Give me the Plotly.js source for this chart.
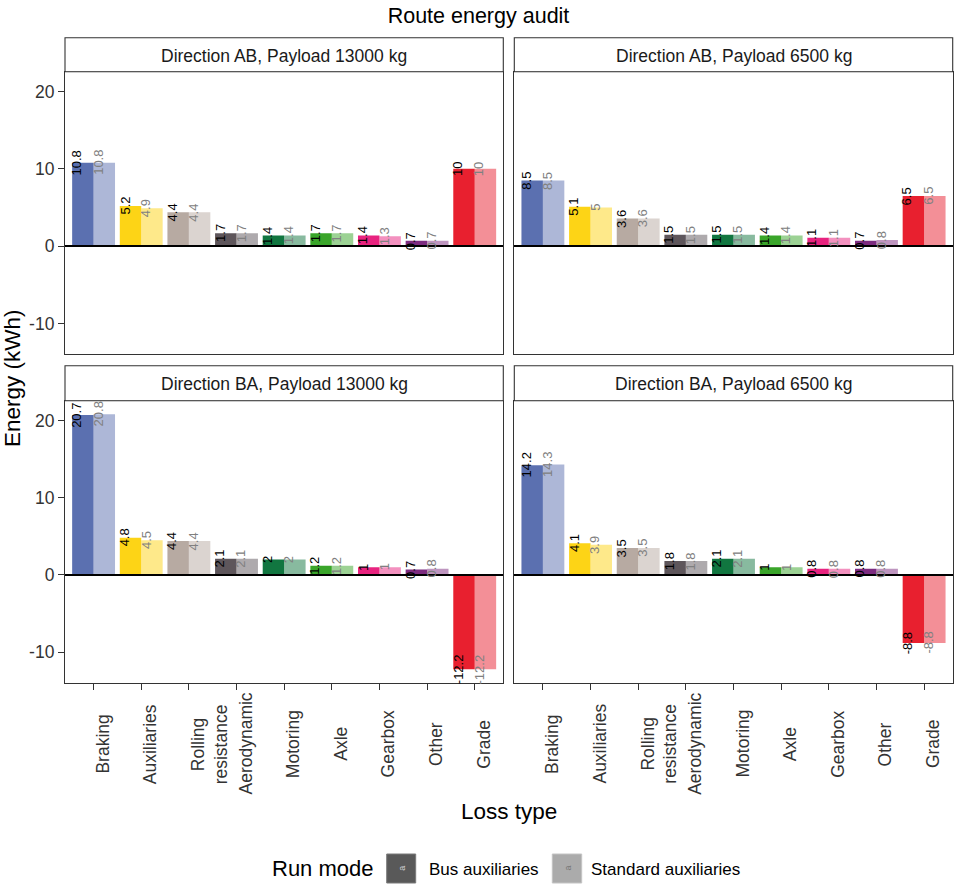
<!DOCTYPE html>
<html>
<head>
<meta charset="utf-8">
<script src="https://cdn.plot.ly/plotly-3.0.1.min.js"></script>
<style>html,body{margin:0;padding:0;background:#fff}#chart{width:957px;height:885px}</style>
</head>
<body>
<div id="chart"></div>
<script>
// ---------- data ----------
const categories = ['Braking','Auxiliaries','Rolling resistance','Aerodynamic','Motoring','Axle','Gearbox','Other','Grade'];
const tickLabels = ['Braking','Auxiliaries','Rolling<br>resistance','Aerodynamic','Motoring','Axle','Gearbox','Other','Grade'];
const modes = ['Bus auxiliaries','Standard auxiliaries'];
const panelTitles = ['Direction AB, Payload 13000 kg','Direction AB, Payload 6500 kg','Direction BA, Payload 13000 kg','Direction BA, Payload 6500 kg'];
const categoryColors = ['#5B70B0','#FDD416','#B7AAA2','#5E565B','#117640','#3AA52A','#E8237F','#7D2C80','#E8202F'];

const busAB13000 = [10.8, 5.2, 4.4, 1.7, 1.4, 1.7, 1.4, 0.7, 10];
const stdAB13000 = [10.8, 4.9, 4.4, 1.7, 1.4, 1.7, 1.3, 0.7, 10];
const busAB6500  = [8.5, 5.1, 3.6, 1.5, 1.5, 1.4, 1.1, 0.7, 6.5];
const stdAB6500  = [8.5, 5, 3.6, 1.5, 1.5, 1.4, 1.1, 0.8, 6.5];
const busBA13000 = [20.7, 4.8, 4.4, 2.1, 2, 1.2, 1, 0.7, -12.2];
const stdBA13000 = [20.8, 4.5, 4.4, 2.1, 2, 1.2, 1, 0.8, -12.2];
const busBA6500  = [14.2, 4.1, 3.5, 1.8, 2.1, 1, 0.8, 0.8, -8.8];
const stdBA6500  = [14.3, 3.9, 3.5, 1.8, 2.1, 1, 0.8, 0.8, -8.8];
const yTicks = [-10, 0, 10, 20];

const panelBus = [busAB13000, busAB6500, busBA13000, busBA6500];
const panelStd = [stdAB13000, stdAB6500, stdBA13000, stdBA6500];

// ---------- layout geometry (pixels) ----------
const W = 957, H = 885;
const FONT = 'Liberation Sans, Arial, Helvetica, sans-serif';
const colPx = [[65, 503.3], [514.3, 952.7]];
const rowPx = [[71.7, 354.3], [400.7, 682.7]];     // plot area rows
const stripPx = [[37.7, 71.7], [365.7, 400.7]];
const px2x = v => v / W;
const px2y = v => 1 - v / H;

const traces = [];
const annotations = [];
const shapes = [];
const layout = {
  width: W, height: H,
  margin: {l: 0, r: 0, t: 0, b: 0},
  paper_bgcolor: '#fff', plot_bgcolor: '#fff',
  barmode: 'group', bargap: 0.1, bargroupgap: 0,
  showlegend: false,
  font: {family: FONT, color: '#000'},
  title: {text: 'Route energy audit', x: 0.5, xanchor: 'center', y: px2y(15), yanchor: 'middle',
          font: {family: FONT, size: 21.5, color: '#000'}}
};

for (let p = 0; p < 4; p++) {
  const r = Math.floor(p / 2), c = p % 2;
  const sfx = p === 0 ? '' : String(p + 1);
  const xa = 'x' + sfx, ya = 'y' + sfx;
  const xName = 'xaxis' + sfx, yName = 'yaxis' + sfx;
  const bottom = r === 1, left = c === 0;

  layout[xName] = {
    domain: [px2x(colPx[c][0]), px2x(colPx[c][1])], anchor: ya,
    type: 'category', categoryorder: 'array', categoryarray: categories,
    range: [-0.6, 8.6], showticklabels: false,
    ticks: bottom ? 'outside' : '', ticklen: 6, tickwidth: 1.1, tickcolor: '#333',
    showline: true, mirror: true, linecolor: '#333', linewidth: 1.1,
    showgrid: false, zeroline: false, fixedrange: true
  };
  layout[yName] = {
    domain: [px2y(rowPx[r][1]), px2y(rowPx[r][0])], anchor: xa,
    range: [-13.95, 22.55], tickvals: yTicks, ticktext: yTicks.map(String),
    showticklabels: left, ticks: left ? 'outside' : '', ticklen: 6, tickwidth: 1.1, tickcolor: '#333',
    tickfont: {family: FONT, size: 17.5, color: '#333'},
    showline: true, mirror: true, linecolor: '#333', linewidth: 1.1,
    showgrid: false, zeroline: true, zerolinecolor: '#000', zerolinewidth: 1.6,
    zerolinelayer: 'above traces', fixedrange: true
  };

  // bars
  traces.push({
    type: 'bar', name: modes[0], x: categories, y: panelBus[p], xaxis: xa, yaxis: ya,
    marker: {color: categoryColors, line: {width: 0}}, hoverinfo: 'x+y+name'
  });
  traces.push({
    type: 'bar', name: modes[1], x: categories, y: panelStd[p], xaxis: xa, yaxis: ya,
    marker: {color: categoryColors, opacity: 0.5, line: {width: 0}}, hoverinfo: 'x+y+name'
  });

  // value labels
  categories.forEach((cat, j) => {
    annotations.push({
      xref: xa, yref: ya, x: cat, y: panelBus[p][j], text: String(panelBus[p][j]),
      textangle: -90, xanchor: 'center', yanchor: 'middle', xshift: -16.7, showarrow: false,
      font: {family: FONT, size: 13, color: '#000'}
    });
    annotations.push({
      xref: xa, yref: ya, x: cat, y: panelStd[p][j], text: String(panelStd[p][j]),
      textangle: -90, xanchor: 'center', yanchor: 'middle', xshift: 4.6, showarrow: false,
      font: {family: FONT, size: 13, color: '#808080'}
    });
  });

  // x tick labels (centered vertically, as in the reference)
  if (bottom) {
    categories.forEach((cat, j) => {
      annotations.push({
        xref: xa, yref: 'paper', x: cat, y: px2y(744), text: tickLabels[j],
        textangle: -90, xanchor: 'left', yanchor: 'middle', xshift: -3, showarrow: false,
        font: {family: FONT, size: 17.5, color: '#333'}
      });
    });
  }

  // facet strip
  shapes.push({
    type: 'rect', xref: 'paper', yref: 'paper',
    x0: px2x(colPx[c][0]), x1: px2x(colPx[c][1]),
    y0: px2y(stripPx[r][1]), y1: px2y(stripPx[r][0]),
    fillcolor: '#fff', line: {color: '#333', width: 1.1}, layer: 'above'
  });
  annotations.push({
    xref: 'paper', yref: 'paper', x: px2x((colPx[c][0] + colPx[c][1]) / 2),
    y: px2y((stripPx[r][0] + stripPx[r][1]) / 2 + 1), text: panelTitles[p],
    xanchor: 'center', yanchor: 'middle', showarrow: false,
    font: {family: FONT, size: 17.5, color: '#1a1a1a'}
  });
}

// axis titles
annotations.push({
  xref: 'paper', yref: 'paper', x: px2x(508.8), y: px2y(811), text: 'Loss type',
  xanchor: 'center', yanchor: 'middle', showarrow: false,
  font: {family: FONT, size: 22.5, color: '#000'}
});
annotations.push({
  xref: 'paper', yref: 'paper', x: px2x(13), y: px2y(378), text: 'Energy (kWh)',
  textangle: -90, xanchor: 'center', yanchor: 'middle', showarrow: false,
  font: {family: FONT, size: 22.5, color: '#000'}
});

// legend (drawn manually to match key size)
annotations.push({
  xref: 'paper', yref: 'paper', x: px2x(322.5), y: px2y(868.5), text: 'Run mode',
  xanchor: 'center', yanchor: 'middle', showarrow: false,
  font: {family: FONT, size: 22, color: '#000'}
});
const keyPx = [[386.7, 415.7], [552.3, 581.7]];
const keyFill = ['#595959', '#ababab'];
const keyLine = ['#7a7a7a', '#c4c4c4'];
const keyText = ['#d0d0d0', '#777'];
const labelCenters = [484.2, 665.9];
modes.forEach((m, i) => {
  shapes.push({
    type: 'rect', xref: 'paper', yref: 'paper',
    x0: px2x(keyPx[i][0]), x1: px2x(keyPx[i][1]), y0: px2y(883), y1: px2y(854),
    fillcolor: keyFill[i], line: {color: keyLine[i], width: 1}
  });
  annotations.push({
    xref: 'paper', yref: 'paper', x: px2x((keyPx[i][0] + keyPx[i][1]) / 2), y: px2y(868.5),
    text: 'a', textangle: -90, xanchor: 'center', yanchor: 'middle', showarrow: false,
    font: {family: FONT, size: 9, color: keyText[i]}
  });
  annotations.push({
    xref: 'paper', yref: 'paper', x: px2x(labelCenters[i]), y: px2y(869), text: m,
    xanchor: 'center', yanchor: 'middle', showarrow: false,
    font: {family: FONT, size: 17, color: '#000'}
  });
});

layout.annotations = annotations;
layout.shapes = shapes;

Plotly.newPlot('chart', traces, layout, {displayModeBar: false, staticPlot: true});
</script>
</body>
</html>
